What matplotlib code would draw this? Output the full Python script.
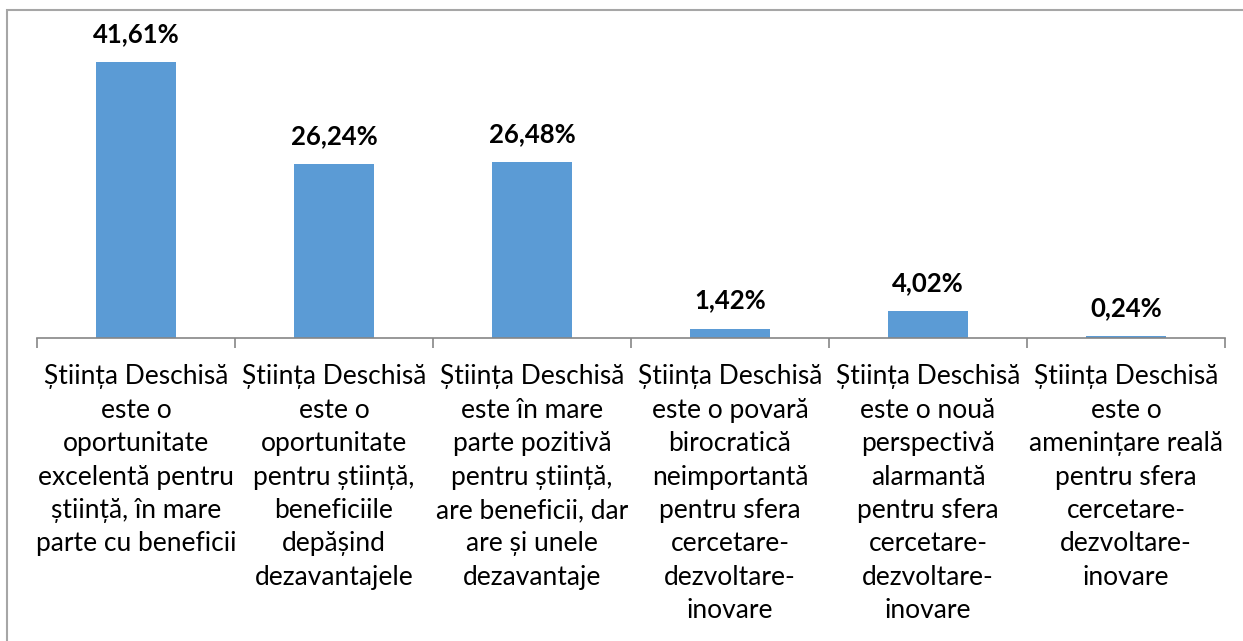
import matplotlib

matplotlib.use("Agg")

import matplotlib.pyplot as plt  # noqa: E402
import numpy as np  # noqa: E402
from matplotlib.patches import Rectangle  # noqa: E402

# values
categories = [
    "Știința Deschisă\neste o\noportunitate\nexcelentă pentru\nștiință, în mare\nparte cu beneficii",
    "Știința Deschisă\neste o\noportunitate\npentru știință,\nbeneficiile\ndepășind\ndezavantajele",
    "Știința Deschisă\neste în mare\nparte pozitivă\npentru știință,\nare beneficii, dar\nare și unele\ndezavantaje",
    "Știința Deschisă\neste o povară\nbirocratică\nneimportantă\npentru sfera\ncercetare-\ndezvoltare-\ninovare",
    "Știința Deschisă\neste o nouă\nperspectivă\nalarmantă\npentru sfera\ncercetare-\ndezvoltare-\ninovare",
    "Știința Deschisă\neste o\namenințare reală\npentru sfera\ncercetare-\ndezvoltare-\ninovare",
]
values = [41.61, 26.24, 26.48, 1.42, 4.02, 0.24]
value_labels = ["41,61%", "26,24%", "26,48%", "1,42%", "4,02%", "0,24%"]

BAR_COLOR = "#5B9BD5"
AXIS_COLOR = "#868686"
FONT = ["Lato", "DejaVu Sans"]

W, H = 1243, 641
fig = plt.figure(figsize=(W / 100, H / 100), dpi=100)
fig.patch.set_facecolor("white")

# outer chart border (cut off on right/bottom in the reference)
fig.patches.append(
    Rectangle((7 / W, -0.1), 1.2, (H - 10) / H + 0.1, transform=fig.transFigure,
              fill=False, edgecolor="#A6A6A6", lw=1.5)
)

ax = fig.add_axes([37 / W, (H - 338) / H, (1225 - 37) / W, (338 - 20) / H])
x = np.arange(len(values))
ax.bar(x, values, width=0.4, color=BAR_COLOR)
ax.set_xlim(-0.5, len(values) - 0.5)
ax.set_ylim(0, 47.94)

for xi, v, lab in zip(x, values, value_labels):
    ax.annotate(lab, (xi, v), xytext=(0, 16), textcoords="offset pixels",
                ha="center", va="bottom", fontsize=18.5, fontweight="bold",
                family=FONT, color="black")

for s in ["top", "right", "left"]:
    ax.spines[s].set_visible(False)
ax.spines["bottom"].set_color(AXIS_COLOR)
ax.spines["bottom"].set_linewidth(1.2)
ax.set_yticks([])

ax.set_xticks(np.arange(len(values) + 1) - 0.5)
ax.set_xticklabels([])
ax.tick_params(axis="x", which="major", length=7, width=1.2, color=AXIS_COLOR)
ax.set_xticks(x, minor=True)
ax.set_xticklabels(categories, minor=True, family=FONT, fontsize=19,
                   linespacing=1.42)
ax.tick_params(axis="x", which="minor", length=0, pad=19)

fig.savefig("out.png", dpi=100)
